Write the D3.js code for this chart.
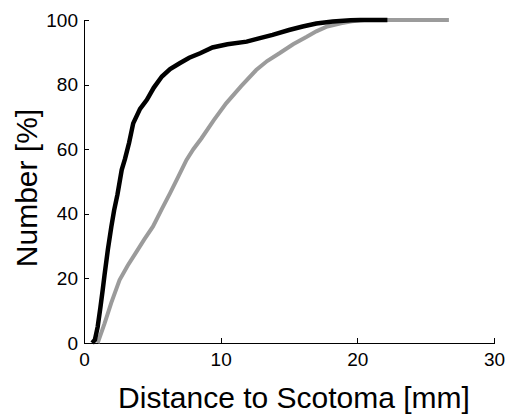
<!doctype html>
<html>
<head>
<script src="https://cdnjs.cloudflare.com/ajax/libs/d3/7.8.5/d3.min.js"></script>
<style>
  body { margin: 0; background: #fff; }
  text { font-family: "Liberation Sans", Arial, sans-serif; fill: #000; }
  .axis path, .axis line { stroke: #000; stroke-width: 1px; shape-rendering: crispEdges; }
</style>
</head>
<body>
<svg id="chart" width="507" height="416"></svg>
<script>
// black curve (distance mm, cumulative %)
var blackX = [0.6, 0.8, 1.0, 1.2, 1.37, 1.5, 1.75, 2.0, 2.2, 2.45, 2.76, 3.0, 3.3, 3.6, 4.1, 4.6, 5.1, 5.7, 6.3, 7.0, 7.7, 8.5, 9.4, 10.5, 11.9, 12.8, 13.8, 15.0, 16.0, 17.0, 18.2, 19.5, 20.2, 22.2];
var blackY = [0, 1, 5, 11, 16.5, 21, 29, 36, 41, 46, 53.6, 57, 62, 68, 72.5, 75.3, 79, 82.5, 84.8, 86.6, 88.3, 89.7, 91.5, 92.5, 93.3, 94.3, 95.4, 96.9, 98, 98.9, 99.5, 99.9, 100, 100];
// gray curve
var grayX = [1.0, 1.5, 2.0, 2.6, 3.2, 3.8, 4.4, 5.05, 5.7, 6.3, 6.9, 7.5, 8.0, 8.6, 9.5, 10.4, 11.5, 12.6, 13.4, 14.3, 15.3, 16.3, 17.0, 17.8, 18.8, 19.6, 20.5, 26.7];
var grayY = [0, 6, 12.5, 19.5, 24, 28, 32, 36.1, 41.5, 46.4, 51.5, 56.7, 60, 63.4, 69, 74.2, 79.5, 84.5, 87.3, 89.7, 92.5, 94.8, 96.5, 98, 99, 99.6, 100, 100];

var xTicks = [0, 10, 20, 30];
var yTicks = [0, 20, 40, 60, 80, 100];

var svg = d3.select("#chart");
var mLeft = 84, mRight = 494, mTop = 20, mBottom = 343;

var x = d3.scaleLinear().domain([0, 30]).range([mLeft, mRight]);
var y = d3.scaleLinear().domain([0, 100]).range([mBottom, mTop]);

var gx = svg.append("g")
    .attr("class", "axis")
    .attr("transform", "translate(0," + mBottom + ")")
    .call(d3.axisBottom(x).tickValues(xTicks).tickSizeInner(-5).tickSizeOuter(0).tickPadding(10));
gx.selectAll("text").style("font-size", "19px").attr("dy", "0.71em");

var gy = svg.append("g")
    .attr("class", "axis")
    .attr("transform", "translate(" + mLeft + ",0)")
    .call(d3.axisLeft(y).tickValues(yTicks).tickSizeInner(-5).tickSizeOuter(0).tickPadding(6));
gy.selectAll("text").style("font-size", "19px");

var line = d3.line()
    .x(function(d) { return x(d[0]); })
    .y(function(d) { return y(d[1]); });

svg.append("path")
    .datum(d3.zip(grayX, grayY))
    .attr("d", line)
    .attr("fill", "none")
    .attr("stroke", "#9b9b9b")
    .attr("stroke-width", 4);

svg.append("path")
    .datum(d3.zip(blackX, blackY))
    .attr("d", line)
    .attr("fill", "none")
    .attr("stroke", "#000")
    .attr("stroke-width", 4.5);

svg.append("text")
    .attr("x", 294)
    .attr("y", 408)
    .attr("text-anchor", "middle")
    .style("font-size", "30px")
    .text("Distance to Scotoma [mm]");

svg.append("text")
    .attr("transform", "translate(37,188) rotate(-90)")
    .attr("text-anchor", "middle")
    .style("font-size", "30px")
    .text("Number [%]");
</script>
</body>
</html>
